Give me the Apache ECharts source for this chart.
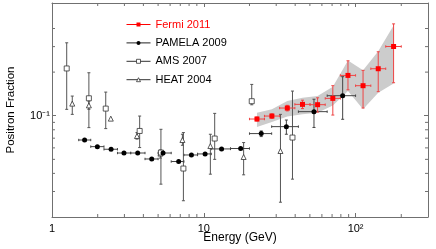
<!DOCTYPE html>
<html><head><meta charset="utf-8">
<script src="https://cdn.jsdelivr.net/npm/echarts@6/dist/echarts.min.js"></script>
<style>html,body{margin:0;padding:0;background:#fff}#c{width:436px;height:249px}</style>
</head><body><div id="c"></div>
<script>
// ---- axes ----
const xRange = [1, 300];
const yRange = [0.02, 0.6];
const xTickValues = [1, 10, 100];
const xTickLabels = ['1', '10', '10²'];
const yTickValues = [0.1];
const yTickLabels = ['10⁻¹'];
const xMinorTicks = [2, 3, 4, 5, 6, 7, 8, 9, 20, 30, 40, 50, 60, 70, 80, 90, 200];
const yMinorTicks = [0.03, 0.04, 0.05, 0.06, 0.07, 0.08, 0.09, 0.2, 0.3, 0.4];

// ---- Fermi 2011 ----
const fermiE    = [22.4, 28.1, 35.5, 44.7, 56.2, 70.8, 89.1, 112, 141, 178];
const fermiEmin = [20, 25.1, 31.6, 39.8, 50.1, 63.1, 79.4, 100, 126, 158];
const fermiEmax = [25.1, 31.6, 39.8, 50.1, 63.1, 79.4, 100, 126, 158, 200];
const fermiFrac = [0.0949, 0.0995, 0.1130, 0.1198, 0.1192, 0.1318, 0.1898, 0.1612, 0.2111, 0.3006];
const fermiLo   = [0.0920, 0.0960, 0.1080, 0.1120, 0.1060, 0.1011, 0.1510, 0.1131, 0.1466, 0.1690];
const fermiHi   = [0.0980, 0.1030, 0.1180, 0.1280, 0.1330, 0.1612, 0.2395, 0.2056, 0.2764, 0.4305];
const bandUpper = [0.1050, 0.1107, 0.1263, 0.1332, 0.1367, 0.1586, 0.2406, 0.2064, 0.2790, 0.4195];
const bandLower = [0.0836, 0.0905, 0.0986, 0.1022, 0.1050, 0.1179, 0.1480, 0.1107, 0.1442, 0.1671];

// ---- PAMELA 2009 ----
const pamE    = [1.64, 1.99, 2.45, 2.98, 3.67, 4.54, 5.39, 6.83, 8.29, 10.2, 13.1, 17.5, 23.9, 35.0, 53.2, 82.2];
const pamEmin = [1.5, 1.8, 2.2, 2.7, 3.3, 4.1, 5.0, 6.1, 7.4, 9.1, 11.2, 15, 20, 28, 42, 65];
const pamEmax = [1.8, 2.2, 2.7, 3.3, 4.1, 5.0, 6.1, 7.4, 9.1, 11.2, 15, 20, 28, 42, 65, 100];
const pamFrac = [0.0680, 0.0612, 0.0587, 0.0553, 0.0553, 0.0503, 0.0553, 0.0483, 0.0536, 0.0545, 0.0590, 0.0594, 0.0753, 0.0841, 0.1067, 0.1375];
const pamLo   = [0.0680, 0.0612, 0.0587, 0.0553, 0.0553, 0.0503, 0.0553, 0.0483, 0.0536, 0.0545, 0.0590, 0.0594, 0.0718, 0.0745, 0.0830, 0.0945];
const pamHi   = [0.0680, 0.0612, 0.0587, 0.0553, 0.0553, 0.0503, 0.0553, 0.0483, 0.0536, 0.0545, 0.0590, 0.0594, 0.0785, 0.0934, 0.1300, 0.1860];

// ---- AMS 2007 ----
const amsE    = [1.25, 1.75, 2.26, 3.78, 5.22, 7.34, 11.8, 20.7, 38.4];
const amsFrac = [0.212, 0.132, 0.112, 0.0785, 0.0557, 0.0432, 0.0696, 0.126, 0.0707];
const amsLo   = [0.1107, 0.0828, 0.0815, 0.0603, 0.0337, 0.0259, 0.0500, 0.119, 0.0365];
const amsHi   = [0.3187, 0.198, 0.1456, 0.0995, 0.0806, 0.0765, 0.1038, 0.1645, 0.148];

// ---- HEAT 2004 ----
const heatE    = [1.36, 1.75, 2.44, 3.63, 5.18, 7.23, 11.05, 18.3, 32.0];
const heatFrac = [0.1212, 0.1179, 0.0955, 0.0725, 0.0548, 0.0680, 0.0618, 0.0519, 0.0571];
const heatLo   = [0.1022, 0.1107, 0.0955, 0.0690, 0.0510, 0.0625, 0.0395, 0.0391, 0.0253];
const heatHi   = [0.1367, 0.1263, 0.0955, 0.0765, 0.0580, 0.0745, 0.0745, 0.0653, 0.1022];

const seriesNames = ['Fermi 2011', 'PAMELA 2009', 'AMS 2007', 'HEAT 2004'];

const AXIS = '#707070';
const FONT = 'Liberation Sans, Arial, Helvetica, sans-serif';

function labelFor(values, labels) {
  return function (v) {
    for (let i = 0; i < values.length; i++) {
      if (Math.abs(Math.log10(v) - Math.log10(values[i])) < 1e-6) return labels[i];
    }
    return '';
  };
}

function errRender(color, cap, hcap) {
  return function (params, api) {
    const x = api.value(0), y = api.value(1);
    const xl = api.value(2), xh = api.value(3), yl = api.value(4), yh = api.value(5);
    const st = { stroke: color, lineWidth: 1 };
    const ch = [];
    if (yl !== yh) {
      const a = api.coord([x, yl]), b = api.coord([x, yh]);
      ch.push({ type: 'line', shape: { x1: a[0], y1: a[1], x2: b[0], y2: b[1] }, style: st });
      ch.push({ type: 'line', shape: { x1: a[0] - cap, y1: a[1], x2: a[0] + cap, y2: a[1] }, style: st });
      ch.push({ type: 'line', shape: { x1: b[0] - cap, y1: b[1], x2: b[0] + cap, y2: b[1] }, style: st });
    }
    if (xl !== xh) {
      const a = api.coord([xl, y]), b = api.coord([xh, y]);
      ch.push({ type: 'line', shape: { x1: a[0], y1: a[1], x2: b[0], y2: b[1] }, style: st });
      ch.push({ type: 'line', shape: { x1: a[0], y1: a[1] - hcap, x2: a[0], y2: a[1] + hcap }, style: st });
      ch.push({ type: 'line', shape: { x1: b[0], y1: b[1] - hcap, x2: b[0], y2: b[1] + hcap }, style: st });
    }
    return { type: 'group', children: ch };
  };
}

function errData(E, Emin, Emax, F, Lo, Hi) {
  return E.map((e, i) => [e, F[i], Emin ? Emin[i] : e, Emax ? Emax[i] : e, Lo[i], Hi[i]]);
}

function axisCommon(extra) {
  return Object.assign({
    type: 'log', logBase: 10,
    axisLine: { show: true, onZero: false, lineStyle: { color: AXIS, width: 1 } },
    axisTick: { show: true, inside: true, length: 4, lineStyle: { color: AXIS } },
    splitLine: { show: false },
    minorTick: { show: false }
  }, extra);
}

const chart = echarts.init(document.getElementById('c'), null, { renderer: 'canvas' });

const openIcon = { color: '#ffffff', borderColor: '#333333', borderWidth: 0.8, opacity: 1 };

const option = {
  animation: false,
  backgroundColor: '#fff',
  textStyle: { fontFamily: FONT },
  grid: { left: 52, right: 8, top: 3, bottom: 32, outerBoundsMode: 'none' },
  legend: {
    orient: 'vertical', left: 126, top: 19, padding: 0,
    itemWidth: 24, itemHeight: 5, itemGap: 7.4,
    textStyle: { fontSize: 11, color: '#000', fontFamily: FONT },
    itemStyle: { opacity: 1 },
    lineStyle: { opacity: 1, width: 1 },
    selectedMode: false,
    data: [
      { name: seriesNames[0], textStyle: { color: '#ff0000' } },
      { name: seriesNames[1] },
      { name: seriesNames[2], itemStyle: openIcon },
      { name: seriesNames[3], itemStyle: openIcon }
    ]
  },
  xAxis: [
    axisCommon({
      min: xRange[0], max: xRange[1], position: 'bottom',
      name: 'Energy (GeV)', nameLocation: 'middle', nameGap: 15, nameMoveOverlap: false,
      nameTextStyle: { fontSize: 12, color: '#000', fontFamily: FONT },
      axisLabel: { margin: 6, fontSize: 11, color: '#000', fontFamily: FONT,
                   formatter: labelFor(xTickValues, xTickLabels) }
    }),
    axisCommon({
      min: xRange[0], max: xRange[1], position: 'top',
      axisLabel: { show: false }
    })
  ],
  yAxis: [
    axisCommon({
      min: yRange[0], max: yRange[1], position: 'left',
      name: 'Positron Fraction', nameLocation: 'middle', nameGap: 35, nameMoveOverlap: false,
      nameTextStyle: { fontSize: 11.5, color: '#000', fontFamily: FONT },
      axisLabel: { margin: 2, fontSize: 11, color: '#000', fontFamily: FONT,
                   formatter: labelFor(yTickValues, yTickLabels) }
    }),
    axisCommon({
      min: yRange[0], max: yRange[1], position: 'right',
      axisLabel: { show: false }
    })
  ],
  series: [
    {
      type: 'custom', name: 'band', z: 1, silent: true,
      data: fermiE.map((e, i) => [e, bandUpper[i], bandLower[i]]),
      encode: { x: 0, y: 1 },
      renderItem: function (params, api) {
        if (params.dataIndex !== 0) return null;
        const n = params.dataInsideLength;
        const up = [], lo = [];
        for (let i = 0; i < n; i++) {
          up.push(api.coord([api.value(0, i), api.value(1, i)]));
          lo.push(api.coord([api.value(0, i), api.value(2, i)]));
        }
        return { type: 'polygon', shape: { points: up.concat(lo.reverse()) }, style: { fill: '#cccccc' } };
      }
    },
    { type: 'custom', name: 'heatErr', z: 2, silent: true, encode: { x: 0, y: 1 },
      data: errData(heatE, null, null, heatFrac, heatLo, heatHi), renderItem: errRender('#555555', 1.5, 1.5) },
    { type: 'custom', name: 'amsErr', z: 2, silent: true, encode: { x: 0, y: 1 },
      data: errData(amsE, null, null, amsFrac, amsLo, amsHi), renderItem: errRender('#555555', 1.5, 1.5) },
    { type: 'custom', name: 'pamErr', z: 2, silent: true, encode: { x: 0, y: 1 },
      data: errData(pamE, pamEmin, pamEmax, pamFrac, pamLo, pamHi), renderItem: errRender('#444444', 1.5, 1.2) },
    { type: 'custom', name: 'fermiErr', z: 2, silent: true, encode: { x: 0, y: 1 },
      data: errData(fermiE, fermiEmin, fermiEmax, fermiFrac, fermiLo, fermiHi), renderItem: errRender('#ee4444', 1.5, 1.2) },
    {
      type: 'line', name: seriesNames[3], z: 3, data: heatE.map((e, i) => [e, heatFrac[i]]),
      symbol: 'triangle', symbolSize: 5, showAllSymbol: true,
      itemStyle: { color: '#ffffff', borderColor: '#333333', borderWidth: 0.8 },
      lineStyle: { color: '#333333', width: 1, opacity: 0 }
    },
    {
      type: 'line', name: seriesNames[2], z: 3, data: amsE.map((e, i) => [e, amsFrac[i]]),
      symbol: 'rect', symbolSize: 5, showAllSymbol: true,
      itemStyle: { color: '#ffffff', borderColor: '#333333', borderWidth: 0.8 },
      lineStyle: { color: '#333333', width: 1, opacity: 0 }
    },
    {
      type: 'line', name: seriesNames[1], z: 3, data: pamE.map((e, i) => [e, pamFrac[i]]),
      symbol: 'circle', symbolSize: 5, showAllSymbol: true,
      itemStyle: { color: '#000000', borderWidth: 0 },
      lineStyle: { color: '#222222', width: 1, opacity: 0 }
    },
    {
      type: 'line', name: seriesNames[0], z: 4, data: fermiE.map((e, i) => [e, fermiFrac[i]]),
      symbol: 'rect', symbolSize: 5, showAllSymbol: true,
      itemStyle: { color: '#ff0000', borderWidth: 0 },
      lineStyle: { color: '#ff0000', width: 1, opacity: 0 }
    },
    {
      type: 'custom', name: 'xMinor', z: 5, silent: true, encode: { x: 0, y: 1 },
      data: xMinorTicks.map(v => [v, 0.1]),
      renderItem: function (params, api) {
        const cs = params.coordSys;
        const x = api.coord([api.value(0), 0.1])[0];
        const st = { stroke: AXIS, lineWidth: 1 };
        const yb = cs.y + cs.height, yt = cs.y;
        return { type: 'group', children: [
          { type: 'line', shape: { x1: x, y1: yb, x2: x, y2: yb - 3 }, style: st },
          { type: 'line', shape: { x1: x, y1: yt, x2: x, y2: yt + 3 }, style: st }
        ] };
      }
    },
    {
      type: 'custom', name: 'yMinor', z: 5, silent: true, encode: { x: 0, y: 1 },
      data: yMinorTicks.map(v => [10, v]),
      renderItem: function (params, api) {
        const cs = params.coordSys;
        const y = api.coord([10, api.value(1)])[1];
        const st = { stroke: AXIS, lineWidth: 1 };
        const xl = cs.x, xr = cs.x + cs.width;
        return { type: 'group', children: [
          { type: 'line', shape: { x1: xl, y1: y, x2: xl + 3, y2: y }, style: st },
          { type: 'line', shape: { x1: xr, y1: y, x2: xr - 3, y2: y }, style: st }
        ] };
      }
    }
  ]
};
chart.setOption(option);
</script>
</body></html>
